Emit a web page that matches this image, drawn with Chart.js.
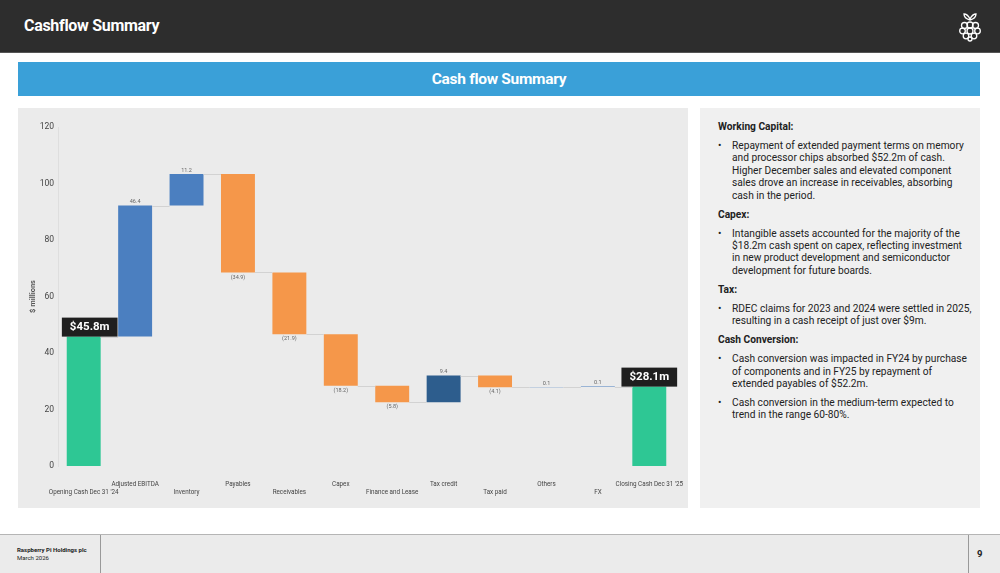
<!DOCTYPE html>
<html>
<head>
<meta charset="utf-8">
<script src="https://cdn.jsdelivr.net/npm/chart.js@4.4.1/dist/chart.umd.min.js"></script>
<style>
  html,body{margin:0;padding:0;}
  body{width:1000px;height:573px;position:relative;background:#fff;font-family:Roboto,"Noto Sans",sans-serif;overflow:hidden;}
  .top{position:absolute;left:0;top:0;width:1000px;height:52px;background:#2d2d2d;border-bottom:1px solid #555;}
  .top h1{position:absolute;left:24px;top:16px;margin:0;font-size:16px;font-weight:700;color:#fff;letter-spacing:-0.3px;}
  .logo{position:absolute;left:958px;top:11px;}
  .banner{position:absolute;left:18px;top:62px;width:962px;height:34px;background:#3aa0d8;color:#fff;font-size:15.5px;font-weight:700;text-align:center;line-height:34px;letter-spacing:-0.3px;}
  .chartbox{position:absolute;left:18px;top:108px;width:670px;height:400px;background:#ebebeb;}
  .notes{position:absolute;left:700px;top:108px;width:280px;height:400px;background:#f0f0f0;font-size:10.2px;color:#222;line-height:12.4px;white-space:nowrap;}
  .notes .in{position:absolute;left:18px;top:13px;width:258px;}
  .notes h3{margin:0 0 6.6px 0;font-size:10.2px;font-weight:700;}
  .notes p{margin:0 0 6.6px 0;padding-left:14px;position:relative;}
  .notes p:before{content:"\2022";position:absolute;left:0;}
  .foot{position:absolute;left:0;top:534px;width:1000px;height:39px;background:#ebebeb;border-top:1px solid #b5b5b5;}
  .foot .l{position:absolute;left:100px;top:0;height:39px;border-left:1px solid #999;}
  .foot .r{position:absolute;left:968px;top:0;height:39px;border-left:1px solid #999;}
  .foot .co{position:absolute;left:17px;top:11px;font-size:6px;line-height:7.5px;color:#222;}
  .foot .pg{position:absolute;left:977px;top:13px;font-size:9.5px;font-weight:700;color:#222;}
</style>
</head>
<body>
<div class="top">
  <h1>Cashflow Summary</h1>
  <svg class="logo" width="24" height="31" viewBox="0 0 24 31" fill="none" stroke="#fff" stroke-width="1.3">
    <path d="M6 3 C9 3 11 6 12 8 C13 6 15 3 18 3 C18 6 16 8 12 9 C8 8 6 6 6 3 Z"/>
    <circle cx="12" cy="14" r="3"/><circle cx="6.5" cy="14.5" r="3"/><circle cx="17.5" cy="14.5" r="3"/>
    <circle cx="4.5" cy="20" r="2.8"/><circle cx="19.5" cy="20" r="2.8"/><circle cx="12" cy="20" r="3"/>
    <circle cx="8" cy="25" r="2.8"/><circle cx="16" cy="25" r="2.8"/><circle cx="12" cy="28" r="2"/>
  </svg>
</div>
<div class="banner">Cash flow Summary</div>
<div class="chartbox"><canvas id="chartCash"></canvas></div>
<div class="notes"><div class="in">
  <h3>Working Capital:</h3>
  <p>Repayment of extended payment terms on memory<br>and processor chips absorbed $52.2m of cash.<br>Higher December sales and elevated component<br>sales drove an increase in receivables, absorbing<br>cash in the period.</p>
  <h3>Capex:</h3>
  <p>Intangible assets accounted for the majority of the<br>$18.2m cash spent on capex, reflecting investment<br>in new product development and semiconductor<br>development for future boards.</p>
  <h3>Tax:</h3>
  <p>RDEC claims for 2023 and 2024 were settled in 2025,<br>resulting in a cash receipt of just over $9m.</p>
  <h3>Cash Conversion:</h3>
  <p>Cash conversion was impacted in FY24 by purchase<br>of components and in FY25 by repayment of<br>extended payables of $52.2m.</p>
  <p>Cash conversion in the medium-term expected to<br>trend in the range 60-80%.</p>
</div></div>
<div class="foot">
  <div class="l"></div><div class="r"></div>
  <div class="co"><b>Raspberry Pi Holdings plc</b><br>March 2026</div>
  <div class="pg">9</div>
</div>
<script>
const categories = ['Opening Cash Dec 31 \'24','Adjusted EBITDA','Inventory','Payables','Receivables','Capex','Finance and Lease','Tax credit','Tax paid','Others','FX','Closing Cash Dec 31 \'25'];
// opening / closing are totals, the rest are movements
const movements = [45.8, 46.4, 11.2, -34.9, -21.9, -18.2, -5.8, 9.4, -4.1, 0.1, 0.1, 28.1];
const kinds = ['total','up','up','down','down','down','down','tax','down','up','up','total'];
const yTicks = [0, 20, 40, 60, 80, 100, 120];
const callouts = { 0: '$45.8m', 11: '$28.1m' };

const kindColors = { total: '#2ec794', up: '#4b7fc0', down: '#f5974a', tax: '#2d5d8d' };

function render(){
  const ctx = document.getElementById('chartCash');
  let run = 0;
  const ranges = movements.map((v, i) => {
    if(kinds[i] === 'total'){ run = v; return [0, v]; }
    const start = run; run += v;
    return [start, run];
  });
  const fmt = (v, i) => kinds[i] === 'total' ? '' : (v < 0 ? '(' + Math.abs(v).toFixed(1) + ')' : v.toFixed(1));

  const waterfallDeco = {
    id: 'waterfallDeco',
    afterDatasetsDraw(chart){
      const c = chart.ctx;
      const meta = chart.getDatasetMeta(0);
      const y = chart.scales.y;
      c.save();
      // connector lines
      c.strokeStyle = '#d2d2d2';
      c.lineWidth = 1;
      for(let i = 0; i < ranges.length - 1; i++){
        const a = meta.data[i], b = meta.data[i+1];
        const lvl = Math.round(y.getPixelForValue(ranges[i][1])) + 0.5;
        c.beginPath();
        c.moveTo(a.x + a.width/2, lvl);
        c.lineTo(b.x - b.width/2, lvl);
        c.stroke();
      }
      // value labels
      c.font = '5.5px Roboto';
      c.fillStyle = '#666';
      c.textAlign = 'center';
      movements.forEach((v, i) => {
        const txt = fmt(v, i);
        if(!txt) return;
        const bar = meta.data[i];
        const top = y.getPixelForValue(Math.max(ranges[i][0], ranges[i][1]));
        const bot = y.getPixelForValue(Math.min(ranges[i][0], ranges[i][1]));
        if(v < 0){ c.textBaseline = 'top'; c.fillText(txt, bar.x, bot + 2); }
        else { c.textBaseline = 'bottom'; c.fillText(txt, bar.x, top - 1); }
      });
      // callout boxes
      c.font = 'bold 11.5px Roboto';
      Object.keys(callouts).forEach(k => {
        const i = +k, bar = meta.data[i];
        const txt = callouts[k];
        const w = c.measureText(txt).width + 16, h = 19;
        const top = y.getPixelForValue(ranges[i][1]);
        const cx = i === 0 ? bar.x + 6 : bar.x;
        c.fillStyle = '#1f1f1f';
        c.fillRect(cx - w/2, top - h, w, h);
        c.fillStyle = '#fff';
        c.textBaseline = 'middle';
        c.fillText(txt, cx, top - h/2 + 0.5);
      });
      c.restore();
    }
  };

  const tickFont = { family: 'Roboto', size: 6.3 };
  // staggered category labels: odd ones on the upper row (x), even ones on the lower row (x2)
  new Chart(ctx, {
    type: 'bar',
    data: {
      labels: categories,
      datasets: [{
        data: ranges,
        backgroundColor: kinds.map(k => kindColors[k]),
        borderWidth: 0,
        categoryPercentage: 1,
        barPercentage: 0.66
      }]
    },
    options: {
      responsive: false,
      animation: false,
      devicePixelRatio: 1,
      layout: { padding: { top: 19, right: 13, bottom: 10, left: 0 } },
      plugins: { legend: { display: false }, tooltip: { enabled: false } },
      scales: {
        x: {
          afterFit: s => { s.height = 22; s.paddingLeft = 0; s.paddingRight = 0; },
          grid: { display: false, drawTicks: false },
          border: { display: false },
          ticks: { color: '#444', font: tickFont, padding: 15, maxRotation: 0, autoSkip: false,
                   callback: (v, i) => i % 2 === 1 ? categories[i] : '' }
        },
        x2: {
          type: 'category',
          position: 'bottom',
          afterFit: s => { s.height = 10; s.paddingLeft = 0; s.paddingRight = 0; },
          grid: { display: false, drawTicks: false },
          border: { display: false },
          ticks: { color: '#444', font: tickFont, padding: 1, maxRotation: 0, autoSkip: false,
                   callback: (v, i) => i % 2 === 0 ? categories[i] : '' }
        },
        y: {
          min: 0, max: 120,
          afterBuildTicks: s => { s.ticks = yTicks.map(v => ({ value: v })); },
          afterFit: s => { s.width = 40; },
          grid: { display: false, drawTicks: false },
          border: { color: '#dedede' },
          ticks: { color: '#444', font: { family: 'Roboto', size: 8.5 }, padding: 4 },
          title: { display: true, text: '$ millions', color: '#555', font: { family: 'Roboto', size: 7.5, weight: 'bold' }, padding: { top: 11, bottom: 0 } }
        }
      }
    },
    plugins: [waterfallDeco]
  });
}

const cv = document.getElementById('chartCash');
cv.width = 670; cv.height = 400;
render();
</script>
</body>
</html>
